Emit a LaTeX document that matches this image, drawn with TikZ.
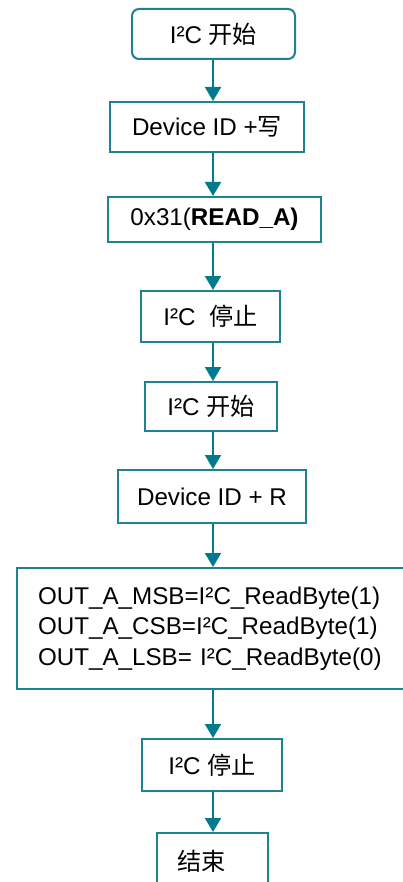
\documentclass[tikz,border=0pt]{standalone}
\usepackage{fontspec}
\setmainfont{Liberation Sans}
\newfontfamily\cjk{Noto Sans CJK SC}
\usetikzlibrary{arrows.meta}
\definecolor{boxc}{RGB}{30,130,148}
\definecolor{arrc}{RGB}{0,122,140}
\tikzset{
  stepbox/.style={draw=boxc, line width=2pt, fill=white, inner sep=0pt, align=center,
    font=\fontsize{24.2}{30.5}\selectfont},
  flow/.style={draw=arrc, line width=2pt, -{Triangle[width=16pt,length=14pt]}}
}
\begin{document}
\begin{tikzpicture}[x=1pt,y=-1pt]
\useasboundingbox (0,0) rectangle (403,882);
\clip (0,0) rectangle (403,882);
\coordinate (ax) at (213,0);
\node[stepbox, rounded corners=7pt, minimum width=163, minimum height=50] (b1) at (213.5,34) {I²C {\cjk 开始}};
\node[stepbox, minimum width=194, minimum height=50] (b2) at (207,127) {Device ID +{\cjk 写}};
\node[stepbox, minimum width=213, minimum height=45] (b3) at (214.5,219.5) {0x31(\textbf{READ\_A)}};
\node[stepbox, minimum width=139, minimum height=51] (b4) at (210.5,316.5) {I²C\ \ {\cjk 停止}};
\node[stepbox, minimum width=132, minimum height=49] (b5) at (211,406.5) {I²C {\cjk 开始}};
\node[stepbox, minimum width=188, minimum height=53] (b6) at (212,496.5) {Device ID + R};
\node[stepbox, minimum height=121, text width=372, inner xsep=21, align=left] (b7) at (224,628.5)
  {OUT\_A\_MSB=I²C\_ReadByte(1)\\OUT\_A\_CSB=I²C\_ReadByte(1)\\OUT\_A\_LSB= I²C\_ReadByte(0)};
\node[stepbox, minimum width=140, minimum height=52] (b8) at (212,765) {I²C {\cjk 停止}};
\node[stepbox, minimum width=111, minimum height=57] (b9) at (212.5,861.5) {\hspace*{-22pt}{\cjk 结束}};
\draw[flow] (b1.south -| ax) -- (b2.north -| ax);
\draw[flow] (b2.south -| ax) -- (b3.north -| ax);
\draw[flow] (b3.south -| ax) -- (b4.north -| ax);
\draw[flow] (b4.south -| ax) -- (b5.north -| ax);
\draw[flow] (b5.south -| ax) -- (b6.north -| ax);
\draw[flow] (b6.south -| ax) -- (b7.north -| ax);
\draw[flow] (b7.south -| ax) -- (b8.north -| ax);
\draw[flow] (b8.south -| ax) -- (b9.north -| ax);
\end{tikzpicture}
\end{document}
